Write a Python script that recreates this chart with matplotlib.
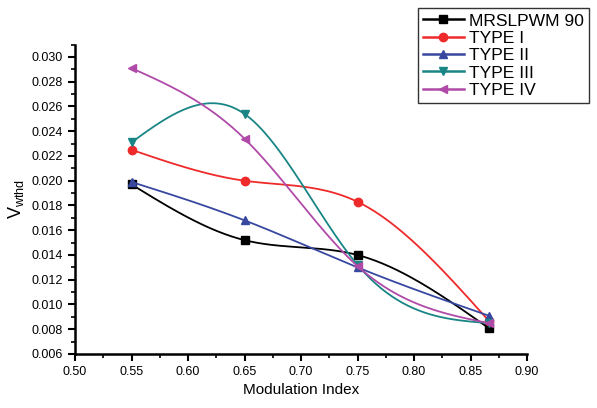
import numpy as np
import matplotlib
matplotlib.use("Agg")
import matplotlib.pyplot as plt
from matplotlib.ticker import MultipleLocator, FormatStrFormatter

plt.rcParams['font.family'] = ['Liberation Sans', 'DejaVu Sans']
plt.rcParams['mathtext.fontset'] = 'custom'
plt.rcParams['mathtext.rm'] = 'Liberation Sans'

mod_index = [0.55, 0.65, 0.75, 0.866]
mrslpwm90 = [0.0197, 0.0152, 0.0140, 0.0081]
type1 = [0.0225, 0.0200, 0.0183, 0.0087]
type2 = [0.0199, 0.0168, 0.0130, 0.0091]
type3 = [0.0231, 0.0254, 0.0132, 0.0085]
type4 = [0.0291, 0.0234, 0.0131, 0.0085]
labels = ['MRSLPWM 90', 'TYPE I', 'TYPE II', 'TYPE III', 'TYPE IV']


def natural_spline(x, y, n=200):
    x = np.asarray(x, float)
    y = np.asarray(y, float)
    k = len(x)
    h = np.diff(x)
    A = np.zeros((k, k))
    b = np.zeros(k)
    A[0, 0] = A[-1, -1] = 1.0
    for i in range(1, k - 1):
        A[i, i - 1] = h[i - 1]
        A[i, i] = 2 * (h[i - 1] + h[i])
        A[i, i + 1] = h[i]
        b[i] = 3 * ((y[i + 1] - y[i]) / h[i] - (y[i] - y[i - 1]) / h[i - 1])
    c = np.linalg.solve(A, b)
    xs = np.linspace(x[0], x[-1], n)
    ys = np.empty_like(xs)
    for j, xv in enumerate(xs):
        i = min(np.searchsorted(x, xv, side='right') - 1, k - 2)
        bi = (y[i + 1] - y[i]) / h[i] - h[i] * (2 * c[i] + c[i + 1]) / 3
        di = (c[i + 1] - c[i]) / (3 * h[i])
        t = xv - x[i]
        ys[j] = y[i] + bi * t + c[i] * t ** 2 + di * t ** 3
    return xs, ys


fig = plt.figure(figsize=(5.97, 4.08), dpi=100)
ax = fig.add_axes([75 / 597, 1 - 354 / 408, (527 - 75) / 597, (354 - 44.6) / 408])

series = [mrslpwm90, type1, type2, type3, type4]
colors = ['#000000', '#ee2a2a', '#3848a0', '#1a8585', '#b04aa8']
markers = ['s', 'o', '^', 'v', '<']

handles = []
for vals, col, mk, lab in zip(series, colors, markers, labels):
    xs, ys = natural_spline(mod_index, vals)
    ax.plot(xs, ys, color=col, lw=1.3)
    ax.plot(mod_index, vals, linestyle='none', marker=mk, color=col, ms=6)
    h, = ax.plot([], [], color=col, lw=1.8, marker=mk, ms=6, label=lab)
    handles.append(h)

ax.set_xlim(0.50, 0.90)
ax.set_ylim(0.006, 0.031)
ax.xaxis.set_major_locator(MultipleLocator(0.05))
ax.xaxis.set_minor_locator(MultipleLocator(0.025))
ax.yaxis.set_major_locator(MultipleLocator(0.002))
ax.yaxis.set_minor_locator(MultipleLocator(0.001))
ax.xaxis.set_major_formatter(FormatStrFormatter('%.2f'))
ax.yaxis.set_major_formatter(FormatStrFormatter('%.3f'))

for s in ['top', 'right']:
    ax.spines[s].set_visible(False)
for s in ['left', 'bottom']:
    ax.spines[s].set_linewidth(1.8)
ax.tick_params(which='major', direction='out', length=5, width=1.5, labelsize=9)
ax.tick_params(which='minor', direction='out', length=3, width=1.2)

ax.set_xlabel('Modulation Index', fontsize=11)
ax.set_ylabel(r'V$_{\mathregular{wthd}}$', fontsize=13)

leg = fig.legend(handles=handles, loc='upper left',
                 bbox_to_anchor=(418 / 597, 1 - 8 / 408),
                 frameon=True, fancybox=False, edgecolor='black',
                 fontsize=12.6, handlelength=2.3, handletextpad=0.3,
                 borderpad=0.3, labelspacing=0.12, borderaxespad=0)
leg.get_frame().set_linewidth(1.0)

fig.savefig('out.png', dpi=100)
